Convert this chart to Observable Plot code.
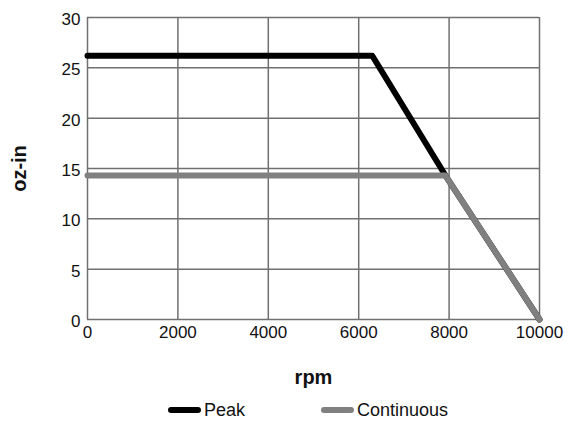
<!DOCTYPE html>
<html><head><meta charset="utf-8">
<script src="https://cdn.jsdelivr.net/npm/d3@7"></script>
<script src="https://cdn.jsdelivr.net/npm/@observablehq/plot@0.6"></script>
<style>
body{margin:0;background:#fff;font-family:"Liberation Sans",Arial,sans-serif;color:#111;}
#chart{width:577px;}
#chart svg{display:block;}
[aria-label="x-axis label"] text,[aria-label="y-axis label"] text{font-size:20px;font-weight:bold;}
.legend{display:flex;align-items:center;height:30px;font-size:18px;padding-left:168px;}
.item{display:flex;align-items:center;}
.sw{width:33px;height:6px;border-radius:3px;margin-right:3px;}
</style></head><body><div id="chart"></div>
<script>
const peakRpm = [0, 6300, 7920, 10000];
const peakTorque = [26.2, 26.2, 14.3, 0];
const contRpm = [0, 7920, 10000];
const contTorque = [14.3, 14.3, 0];
const xTicks = [0, 2000, 4000, 6000, 8000, 10000];
const yTicks = [0, 5, 10, 15, 20, 25, 30];
const seriesNames = ["Peak", "Continuous"];
const seriesColors = ["#000000", "#808080"];

const peak = peakRpm.map((x, i) => ({x, y: peakTorque[i]}));
const cont = contRpm.map((x, i) => ({x, y: contTorque[i]}));

const grid = {stroke: "#707070", strokeOpacity: 1, strokeWidth: 1.5};
const plot = Plot.plot({
  width: 577, height: 395,
  marginLeft: 87, marginRight: 38, marginTop: 17, marginBottom: 76,
  style: {fontSize: "17px", fontFamily: '"Liberation Sans", Arial, sans-serif', color: "#111"},
  x: {domain: [0, 10000]},
  y: {domain: [0, 30]},
  marks: [
    Plot.gridX(xTicks, grid),
    Plot.gridY(yTicks, grid),
    Plot.axisX(xTicks, {tickSize: 0, tickPadding: 6, tickFormat: d => String(d), label: "rpm", labelArrow: "none", labelAnchor: "center", labelOffset: 64}),
    Plot.axisY(yTicks, {tickSize: 0, tickPadding: 7, dy: 2, label: "oz-in", labelArrow: "none", labelAnchor: "center", labelOffset: 76}),
    Plot.line(peak, {x: "x", y: "y", stroke: seriesColors[0], strokeWidth: 6, strokeLinecap: "round", strokeLinejoin: "round"}),
    Plot.line(cont, {x: "x", y: "y", stroke: seriesColors[1], strokeWidth: 6, strokeLinecap: "round", strokeLinejoin: "round"})
  ]
});
document.getElementById("chart").appendChild(plot);

const leg = document.createElement("div");
leg.className = "legend";
seriesNames.forEach((n, i) => {
  const it = document.createElement("div");
  it.className = "item";
  if (i > 0) it.style.marginLeft = "76px";
  const sw = document.createElement("span");
  sw.className = "sw";
  sw.style.background = seriesColors[i];
  const t = document.createElement("span");
  t.textContent = n;
  it.append(sw, t);
  leg.appendChild(it);
});
document.getElementById("chart").appendChild(leg);
</script></body></html>
